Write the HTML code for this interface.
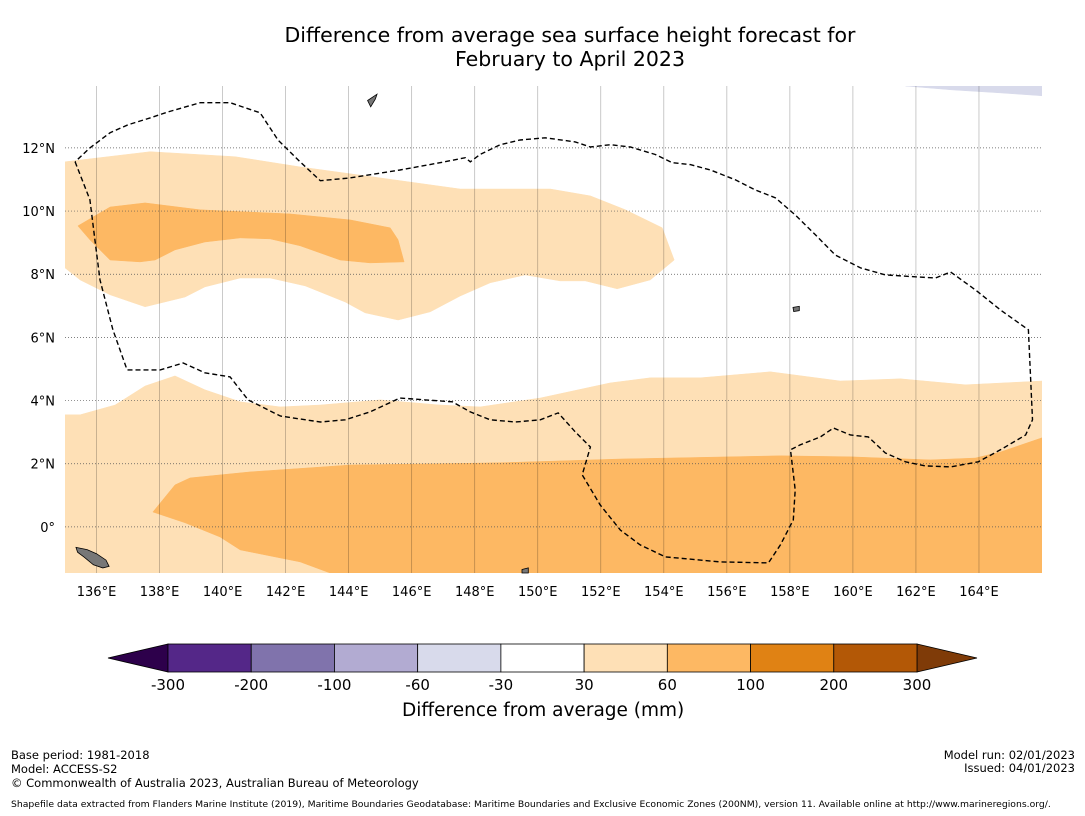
<!DOCTYPE html>
<html><head><meta charset="utf-8">
<style>
body{margin:0;background:#fff;font-family:"DejaVu Sans","Liberation Sans",sans-serif;}
#wrap{position:relative;width:1085px;height:816px;overflow:hidden;background:#fff;}
.t{position:absolute;white-space:nowrap;color:#000;}
</style></head><body>
<div id="wrap">
<div class="t" style="left:0;width:1140px;text-align:center;top:23px;font-size:20.5px;line-height:24px;">Difference from average sea surface height forecast for<br>February to April 2023</div>
<svg id="map" width="1085" height="816" style="position:absolute;left:0;top:0"></svg>
<div class="t" style="left:402px;top:700px;font-size:18.5px;">Difference from average (mm)</div>
<div class="t" style="left:11px;top:748px;font-size:11.5px;line-height:14px;">Base period: 1981-2018<br>Model: ACCESS-S2<br>© Commonwealth of Australia 2023, Australian Bureau of Meteorology</div>
<div class="t" style="right:10px;top:749px;font-size:11.5px;line-height:13px;text-align:right;">Model run: 02/01/2023<br>Issued: 04/01/2023</div>
<div class="t" style="left:11px;top:799px;font-size:9.25px;">Shapefile data extracted from Flanders Marine Institute (2019), Maritime Boundaries Geodatabase: Maritime Boundaries and Exclusive Economic Zones (200NM), version 11. Available online at http://www.marineregions.org/.</div>
</div>
<script>
const lonTicks=[136,138,140,142,144,146,148,150,152,154,156,158,160,162,164];
const latTicks=[0,2,4,6,8,10,12];
const cbLabels=["-300","-200","-100","-60","-30","30","60","100","200","300"];
const cbColors=["#542788","#8073ac","#b2abd2","#d8daeb","#ffffff","#fee0b6","#fdb863","#e08214","#b35806"];
const upperLight=[[135,11.56],[137.7,11.88],[140.4,11.72],[142.46,11.40],[145,11.05],[147.54,10.70],[150.4,10.70],[151.67,10.48],[152.78,10.04],[153.95,9.47],[154.33,8.45],[153.57,7.82],[152.52,7.54],[151.51,7.79],[150.71,7.79],[149.6,7.98],[148.49,7.73],[147.54,7.31],[146.59,6.81],[145.57,6.55],[144.52,6.78],[143.89,7.12],[142.62,7.63],[141.51,7.88],[140.56,7.88],[139.44,7.60],[138.81,7.28],[137.54,6.97],[136.43,7.35],[135.48,7.82],[135,8.20]];
const upperOrange=[[135.41,9.53],[136.43,10.13],[137.54,10.26],[139.29,10.04],[142.14,9.91],[144.05,9.72],[145.32,9.47],[145.57,9.09],[145.76,8.39],[144.68,8.36],[143.73,8.45],[142.46,8.90],[141.51,9.12],[140.56,9.15],[139.44,9.02],[138.49,8.77],[137.86,8.45],[137.38,8.39],[136.43,8.45],[135.79,9.09]];
const lowerLight=[[135,3.55],[135.48,3.55],[136.59,3.86],[137.54,4.46],[138.49,4.78],[139.44,4.34],[140.56,3.96],[141.83,3.80],[143.1,3.86],[145,4.02],[146.9,3.86],[148.17,3.80],[150.08,4.08],[152.3,4.56],[153.57,4.72],[155.16,4.72],[157.38,4.91],[159.6,4.62],[161.51,4.69],[163.57,4.50],[166,4.62],[166,-1.46],[135,-1.46]];
const lowerOrange=[[137.79,0.47],[138.49,1.33],[138.97,1.55],[140.87,1.74],[144.05,1.96],[148.81,2.03],[152.62,2.15],[157.7,2.25],[159.92,2.22],[162.46,2.12],[163.89,2.18],[164.68,2.37],[166,2.82],[166,-1.46],[143.41,-1.46],[142.46,-1.11],[140.56,-0.73],[139.92,-0.32],[138.81,0.13]];
const lavender=[[161.67,13.96],[166,13.96],[166,13.65],[164.68,13.74],[163.1,13.84]];
const eez=[[135.32,11.56],[135.79,10.36],[135.95,9.09],[136.11,7.82],[136.52,6.24],[136.97,4.97],[138.02,4.97],[138.75,5.19],[139.44,4.88],[140.24,4.75],[140.81,4.02],[141.83,3.51],[143.1,3.32],[143.89,3.39],[144.68,3.64],[145.63,4.08],[146.43,4.02],[147.29,3.96],[147.86,3.64],[148.49,3.39],[149.29,3.32],[150.08,3.39],[150.65,3.61],[151.19,3.01],[151.67,2.53],[151.41,1.65],[151.98,0.70],[152.62,-0.10],[153.25,-0.57],[154.05,-0.95],[155.79,-1.11],[157.32,-1.14],[157.7,-0.57],[158.11,0.22],[158.17,1.17],[158.02,2.44],[158.33,2.60],[158.97,2.85],[159.38,3.13],[159.92,2.91],[160.49,2.85],[161.03,2.34],[161.67,2.06],[162.3,1.93],[163.1,1.90],[163.98,2.06],[164.68,2.44],[165.48,2.91],[165.7,3.39],[165.57,6.24],[164.68,6.87],[163.89,7.50],[163.1,8.07],[162.62,7.88],[161.98,7.92],[161.03,7.98],[160.24,8.20],[159.44,8.61],[158.81,9.25],[158.17,9.88],[157.54,10.42],[156.9,10.67],[156.27,10.99],[155.48,11.30],[154.84,11.47],[154.27,11.53],[153.73,11.79],[152.94,12.03],[152.3,12.10],[151.67,12.03],[151.19,12.19],[150.24,12.32],[149.44,12.25],[148.81,12.10],[148.17,11.79],[147.86,11.56],[147.7,11.69],[146.9,11.53],[145.63,11.30],[144.05,11.05],[143.1,10.96],[142.46,11.56],[141.76,12.25],[141.19,13.11],[140.24,13.43],[139.29,13.43],[138.27,13.14],[137.7,12.95],[137.0,12.73],[136.43,12.48],[135.79,12.0],[135.32,11.56]];
const islands=[[[135.35,-0.65],[135.7,-0.72],[136.0,-0.85],[136.3,-1.05],[136.4,-1.25],[136.2,-1.3],[135.9,-1.2],[135.6,-0.95],[135.4,-0.8]],[[144.6,13.5],[144.9,13.7],[144.85,13.55],[144.7,13.3]],[[158.1,6.95],[158.3,6.98],[158.3,6.85],[158.12,6.82]],[[149.5,-1.35],[149.7,-1.3],[149.7,-1.46],[149.5,-1.46]]];
const NS="http://www.w3.org/2000/svg";
const svg=document.getElementById('map');
const X0=65,X1=1042,Y0=86,Y1=573,L0=135,L1=166,B0=-1.46,B1=13.96;
const FF='DejaVu Sans, Liberation Sans, sans-serif';
function xs(lon){return X0+(lon-L0)/(L1-L0)*(X1-X0);}
function ys(lat){return Y1-(lat-B0)/(B1-B0)*(Y1-Y0);}
function mk(tag,attrs){const e=document.createElementNS(NS,tag);for(const k in attrs)e.setAttribute(k,attrs[k]);svg.appendChild(e);return e;}
function pts(a){return a.map(p=>xs(p[0]).toFixed(1)+','+ys(p[1]).toFixed(1)).join(' ');}
const clip=mk('clipPath',{id:'c'});const cr=document.createElementNS(NS,'rect');cr.setAttribute('x',X0);cr.setAttribute('y',Y0);cr.setAttribute('width',X1-X0);cr.setAttribute('height',Y1-Y0);clip.appendChild(cr);
const fills=[[upperLight,'#fee0b6','upper-light-contour'],[upperOrange,'#fdb863','upper-orange-contour'],[lowerLight,'#fee0b6','lower-light-contour'],[lowerOrange,'#fdb863','lower-orange-contour'],[lavender,'#d8daeb','lavender-contour']];
fills.forEach(f=>{const p=mk('polygon',{points:pts(f[0]),fill:f[1],stroke:f[1],'stroke-width':0.5,'clip-path':'url(#c)'});

});
lonTicks.forEach(l=>{const x=xs(l);const g=mk('line',{x1:x,x2:x,y1:Y0,y2:Y1,stroke:'#000','stroke-opacity':0.3,'stroke-width':0.7});


const t=mk('text',{x:x,y:596,'font-size':13,'text-anchor':'middle','font-family':FF});t.textContent=l+'°E';

});
latTicks.forEach(l=>{const y=ys(l);const g=mk('line',{x1:X0,x2:X1,y1:y,y2:y,stroke:'#555','stroke-width':0.7,'stroke-dasharray':'1,2'});


const t=mk('text',{x:55,y:y+5,'font-size':13,'text-anchor':'end','font-family':FF});t.textContent=l===0?'0°':l+'°N';

});
islands.forEach(is=>{const p=mk('polygon',{points:pts(is),fill:'#777',stroke:'#000','stroke-width':0.8});

});
const e=mk('polyline',{points:pts(eez),fill:'none',stroke:'#000','stroke-width':1.4,'stroke-dasharray':'5,3'});


const CX0=168,CX1=917,CY=644,CH=28,seg=(CX1-CX0)/cbColors.length;
const lt=mk('polygon',{points:`108,658 ${CX0},${CY} ${CX0},${CY+CH}`,fill:'#2d004b',stroke:'#000','stroke-width':0.8});


const rt=mk('polygon',{points:`977,658 ${CX1},${CY} ${CX1},${CY+CH}`,fill:'#7f3b08',stroke:'#000','stroke-width':0.8});


cbColors.forEach((c,i)=>{const r=mk('rect',{x:CX0+i*seg,y:CY,width:seg,height:CH,fill:c,stroke:'#000','stroke-width':0.8});

});
cbLabels.forEach((s,i)=>{const t=mk('text',{x:CX0+i*seg,y:690,'font-size':15,'text-anchor':'middle','font-family':FF});t.textContent=s;

});
</script>
</body></html>
